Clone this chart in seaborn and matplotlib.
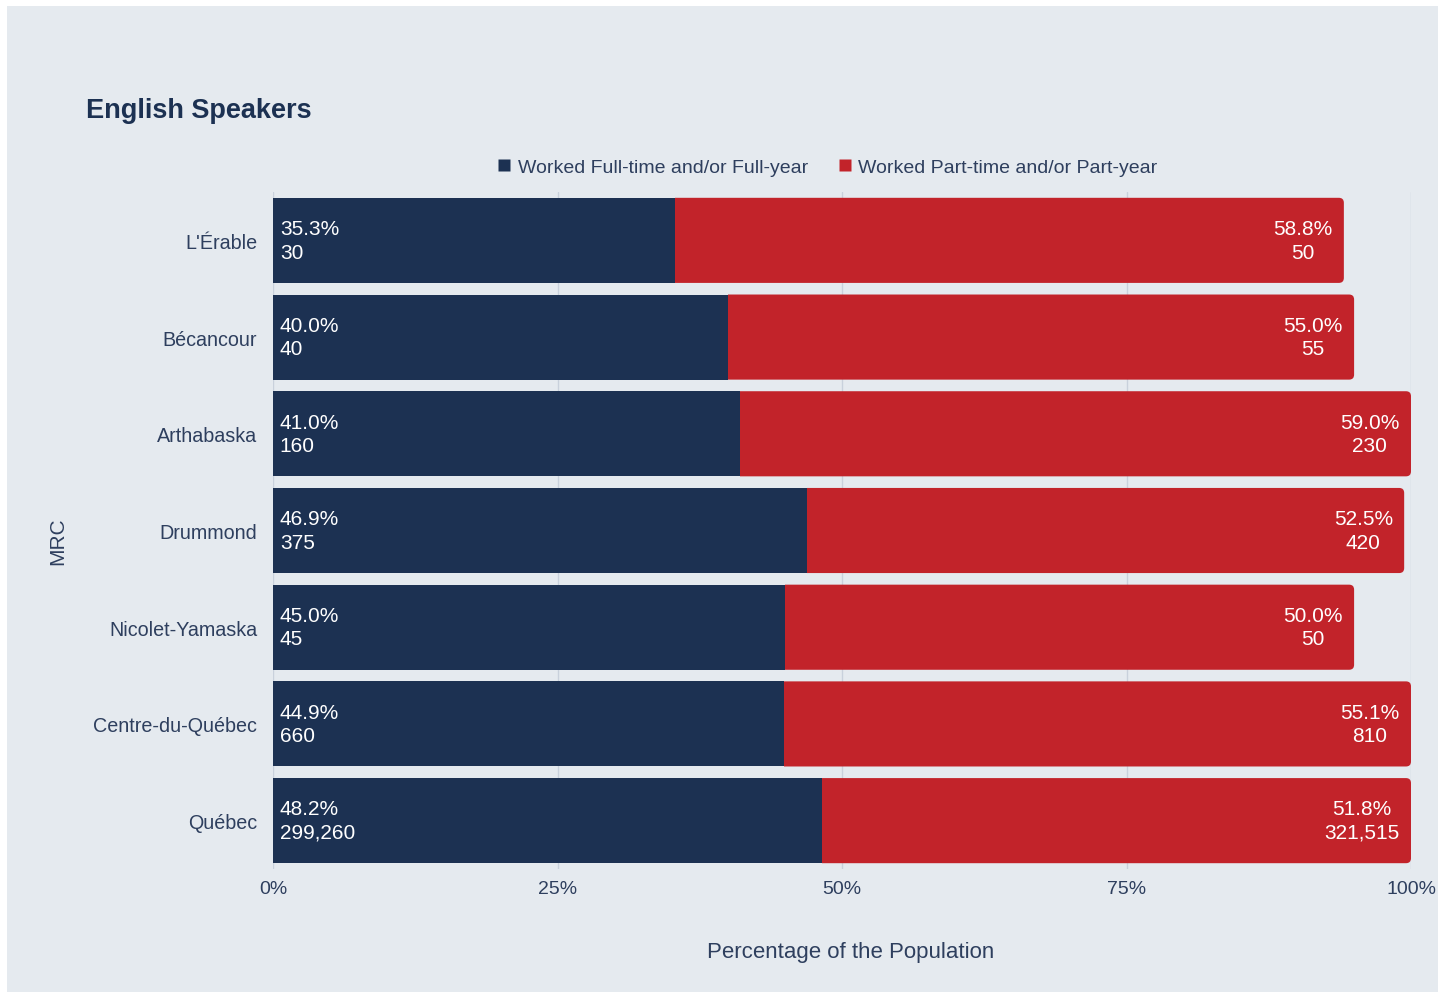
import matplotlib
matplotlib.use("Agg")
import matplotlib.pyplot as plt
from matplotlib.patches import Rectangle, FancyBboxPatch
from matplotlib.lines import Line2D
import seaborn as sns
import pandas as pd

# Employment pattern of English speakers by MRC
regions = ["L'Érable", "Bécancour", "Arthabaska", "Drummond",
           "Nicolet-Yamaska", "Centre-du-Québec", "Québec"]
full_pct = [35.3, 40.0, 41.0, 46.9, 45.0, 44.9, 48.2]
part_pct = [58.8, 55.0, 59.0, 52.5, 50.0, 55.1, 51.8]
full_n = [30, 40, 160, 375, 45, 660, 299260]
part_n = [50, 55, 230, 420, 50, 810, 321515]
x_ticks = [0, 25, 50, 75, 100]

series_names = ["Worked Full-time and/or Full-year", "Worked Part-time and/or Part-year"]

NAVY = "#1c3152"
RED = "#c2232a"
BG = "#e5eaef"
TEXT = "#2e3f5e"
GRID = "#c9d1dc"

df = pd.DataFrame({
    "region": regions,
    "full": full_pct,
    "part": part_pct,
})

sns.set_theme(style="white")
plt.rcParams["font.family"] = ["Liberation Sans", "DejaVu Sans"]

W, H = 1450, 995
fig = plt.figure(figsize=(W / 100, H / 100), dpi=100)
fig.patch.set_facecolor("white")
fig.patches.append(Rectangle((7 / W, 2 / H), (1438 - 7) / W, (993 - 7) / H,
                             transform=fig.transFigure, facecolor=BG,
                             edgecolor="none", zorder=-10))

ax_l, ax_r, ax_t, ax_b = 273, 1411, 193, 870
ax = fig.add_axes([ax_l / W, 1 - ax_b / H, (ax_r - ax_l) / W, (ax_b - ax_t) / H])
ax.set_facecolor("none")
ax.set_zorder(1)

sns.barplot(data=df, y="region", x="full", orient="h", color=NAVY,
            width=0.88, saturation=1, ax=ax, zorder=3)
n_full = len(ax.patches)
sns.barplot(data=df, y="region", x="part", orient="h", color=RED,
            width=0.88, saturation=1, ax=ax, zorder=2)
red_patches = list(ax.patches)[n_full:]

ax.set_xlim(0, 100)
ax.set_ylim(6.5, -0.5)

# stack the part-time segments after the full-time ones, rounding the outer end
px_per_x = (ax_r - ax_l) / 100.0
px_per_y = (ax_b - ax_t) / 7.0
radius = 5 / px_per_x
for i, p in enumerate(red_patches):
    start = full_pct[i]
    end = start + p.get_width()
    y0, h = p.get_y(), p.get_height()
    p.remove()
    seg = FancyBboxPatch((start - 2 * radius, y0), end - start + 2 * radius, h,
                         boxstyle=f"round,pad=0,rounding_size={radius}",
                         mutation_aspect=px_per_x / px_per_y,
                         facecolor=RED, edgecolor="none", zorder=2)
    ax.add_patch(seg)
    seg.set_clip_path(Rectangle((start, y0 - 0.2), 200, h + 0.4,
                                transform=ax.transData))

for p in ax.patches:
    p.set_edgecolor("none")

# value labels
for i in range(len(regions)):
    ax.text(0.6, i, f"{full_pct[i]:.1f}%\n{full_n[i]:,}", color="white",
            fontsize=15, ha="left", va="center", linespacing=1.3, zorder=5)
    end = full_pct[i] + part_pct[i]
    ax.text(end - 1.0, i, f"{part_pct[i]:.1f}%\n{part_n[i]:,}", color="white",
            fontsize=15, ha="right", va="center", multialignment="center",
            linespacing=1.3, zorder=5)

ax.set_xticks(x_ticks)
ax.set_xticklabels([f"{t}%" for t in x_ticks])
ax.xaxis.grid(True, color=GRID, linewidth=1, zorder=0)
ax.set_axisbelow(True)
for s in ax.spines.values():
    s.set_visible(False)
ax.tick_params(axis="x", length=0, pad=8, labelsize=14, labelcolor=TEXT)
ax.tick_params(axis="y", length=0, pad=11.5, labelsize=14.2, labelcolor=TEXT)

ax.set_xlabel("Percentage of the Population", fontsize=16, color=TEXT, labelpad=0)
ax.xaxis.set_label_coords((851 - ax_l) / (ax_r - ax_l), -(942 - ax_b) / (ax_b - ax_t))
ax.set_ylabel("MRC", fontsize=15, color=TEXT)
ax.yaxis.set_label_coords(-(ax_l - 67) / (ax_r - ax_l), (ax_b - 541) / (ax_b - ax_t))

fig.text(86 / W, 1 - 118 / H, "English Speakers", fontsize=19.5, fontweight="bold",
         color=NAVY, ha="left", va="baseline")

handles = [Line2D([], [], marker="s", linestyle="none", markersize=8,
                  markerfacecolor=c, markeredgecolor="none")
           for c in (NAVY, RED)]
fig.legend(handles, series_names, loc="center", bbox_to_anchor=(827 / W, 1 - 168 / H),
           ncol=2, frameon=False, fontsize=14, labelcolor=TEXT,
           handletextpad=0.3, columnspacing=1.5, handlelength=0.8)

fig.savefig("out.png", dpi=100, facecolor="white")
